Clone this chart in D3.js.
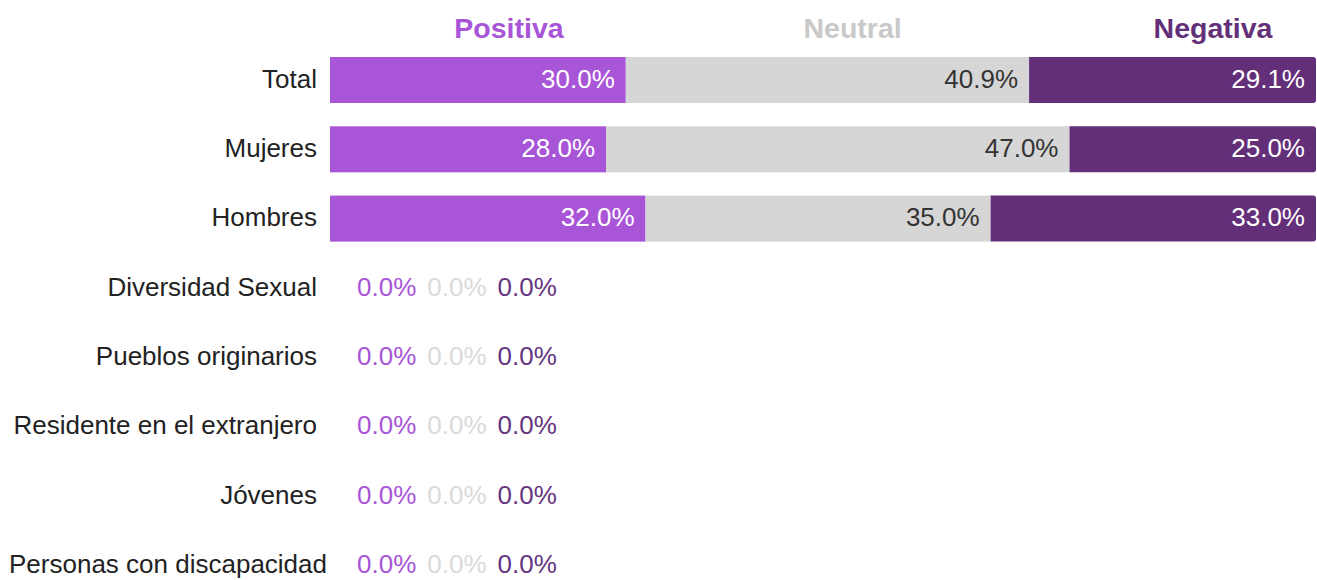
<!DOCTYPE html>
<html>
<head>
<meta charset="utf-8">
<script src="https://cdn.jsdelivr.net/npm/d3@7/dist/d3.min.js"></script>
<style>
  html, body { margin: 0; padding: 0; background: #fff; }
  svg { display: block; }
  text { font-family: "Liberation Sans", Arial, Helvetica, sans-serif; }
</style>
</head>
<body>
<svg id="chart" width="1317" height="580"></svg>
<script>
// ---- data ----
const categories = ["Total", "Mujeres", "Hombres", "Diversidad Sexual", "Pueblos originarios",
  "Residente en el extranjero", "Jóvenes", "Personas con discapacidad"];
const seriesNames = ["Positiva", "Neutral", "Negativa"];
const positiva = [30.0, 28.0, 32.0, 0, 0, 0, 0, 0];
const neutral  = [40.9, 47.0, 35.0, 0, 0, 0, 0, 0];
const negativa = [29.1, 25.0, 33.0, 0, 0, 0, 0, 0];

const seriesValues = [positiva, neutral, negativa];
const barColors   = ["#a855d7", "#d6d6d6", "#632f79"];
const headColors  = ["#a855d7", "#c9c9c9", "#632f79"];
const inLabelCol  = ["#ffffff", "#333333", "#ffffff"];
const zeroLabelCol = ["#a855d7", "#dadada", "#653580"];

const left = 330, right = 1316;
const svg = d3.select("#chart");

const x = d3.scaleLinear().domain([0, 100]).range([left, right]);
const step = 69.3;
const y = d3.scaleBand().domain(categories)
  .range([45.36, 45.36 + step * categories.length])
  .paddingInner(0.336).paddingOuter(0.168);

// headers
const headerPos = [0.1815, 0.530, 0.8955];
svg.selectAll("text.head").data(seriesNames).join("text")
  .attr("class", "head")
  .attr("x", (d, i) => left + headerPos[i] * (right - left))
  .attr("y", 38)
  .attr("text-anchor", "middle")
  .attr("font-size", 28.5)
  .attr("font-weight", "bold")
  .attr("fill", (d, i) => headColors[i])
  .text(d => d);

// category labels
svg.selectAll("text.cat").data(categories).join("text")
  .attr("class", "cat")
  .attr("x", (d, i) => i === categories.length - 1 ? 327 : 317)
  .attr("y", d => y(d) + y.bandwidth() / 2)
  .attr("dy", "0.3em")
  .attr("text-anchor", "end")
  .attr("font-size", 26)
  .attr("fill", "#222")
  .text(d => d);

function roundedRight(x0, y0, w, h, r) {
  r = Math.min(r, w, h / 2);
  return `M${x0},${y0}H${x0 + w - r}Q${x0 + w},${y0} ${x0 + w},${y0 + r}V${y0 + h - r}Q${x0 + w},${y0 + h} ${x0 + w - r},${y0 + h}H${x0}Z`;
}

categories.forEach((cat, ci) => {
  const vals = seriesValues.map(s => s[ci]);
  const total = d3.sum(vals);
  const g = svg.append("g");
  const yc = y(cat) + y.bandwidth() / 2;
  if (total > 0) {
    let acc = 0;
    vals.forEach((v, si) => {
      const x0 = x(acc), x1 = x(acc + v);
      acc += v;
      if (si === vals.length - 1) {
        g.append("path").attr("d", roundedRight(x0, y(cat), x1 - x0, y.bandwidth(), 3))
          .attr("fill", barColors[si]);
      } else {
        g.append("rect").attr("x", x0).attr("y", y(cat))
          .attr("width", x1 - x0).attr("height", y.bandwidth())
          .attr("fill", barColors[si]);
      }
      g.append("text")
        .attr("x", x1 - 11)
        .attr("y", yc)
        .attr("dy", "0.3em")
        .attr("text-anchor", "end")
        .attr("font-size", 26)
        .attr("fill", inLabelCol[si])
        .text(v.toFixed(1) + "%");
    });
  } else {
    let cx = x(0) + 27;
    vals.forEach((v, si) => {
      const t = g.append("text")
        .attr("x", cx)
        .attr("y", yc)
        .attr("dy", "0.3em")
        .attr("text-anchor", "start")
        .attr("font-size", 26)
        .attr("fill", zeroLabelCol[si])
        .text(v.toFixed(1) + "%");
      cx += t.node().getComputedTextLength() + 11;
    });
  }
});
</script>
</body>
</html>
